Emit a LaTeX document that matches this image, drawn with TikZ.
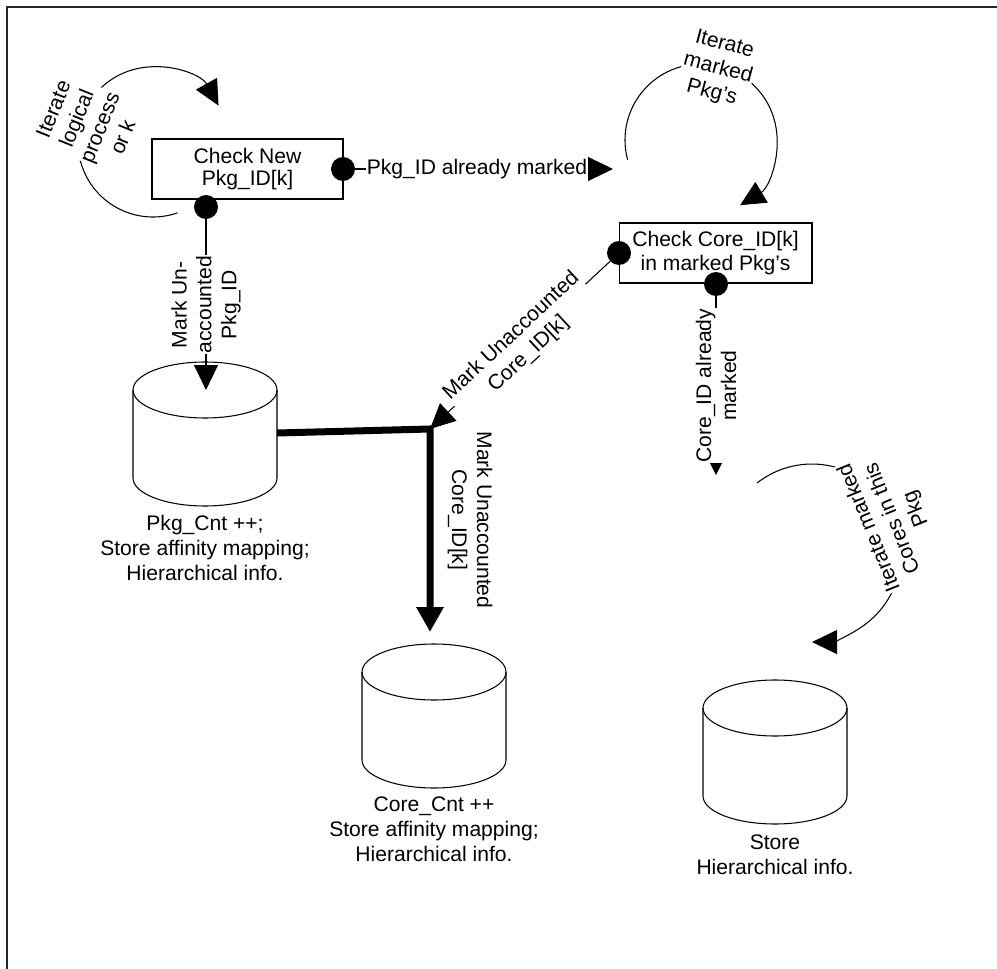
\documentclass[tikz,border=0pt]{standalone}
\usepackage{fontspec}
\setmainfont{Liberation Sans}
\usetikzlibrary{arrows.meta}
\begin{document}
\begin{tikzpicture}[x=0.02cm,y=0.02cm,
  font=\fontsize{12}{14.2}\selectfont,
  procbox/.style={draw, line width=0.6pt, minimum width=3.82cm, minimum height=1.2cm,
    align=center, inner sep=0pt, font=\fontsize{12}{12.2}\selectfont},
  dotn/.style={circle, fill=black, draw=none, minimum size=0.48cm, inner sep=0pt},
  lbl/.style={fill=white, align=center, inner sep=0.5pt},
  arr/.style={line width=0.6pt, -{Triangle[length=0.5cm,width=0.48cm]}},
  sarr/.style={line width=0.6pt, -{Triangle[length=0.32cm,width=0.32cm]}},
  tarr/.style={line width=0.14cm, line join=miter, -{Triangle[length=0.5cm,width=0.52cm]}},
  dbcyl/.pic={
    \draw[line width=0.6pt, fill=white] (-72,0) -- (-72,-88)
      arc[start angle=180, end angle=360, x radius=72, y radius=28] -- (72,0);
    \draw[line width=0.6pt] (0,0) ellipse[x radius=72, y radius=28];
  }]
\useasboundingbox (0,0) rectangle (997,-969);
% frame
\draw[line width=0.04cm, black!85] (7,-969) -- (7,-7) -- (997,-7);

% cylinders
\pic at (205,-390) {dbcyl};
\pic at (434,-672) {dbcyl};
\pic at (775,-708) {dbcyl};
\node[align=center] (pkglbl) at (205,-548) {Pkg\_Cnt ++;\\Store affinity mapping;\\Hierarchical info.};
\node[align=center] (corelbl) at (434,-829) {Core\_Cnt ++\\Store affinity mapping;\\Hierarchical info.};
\node[align=center] (storelbl) at (775,-855) {Store\\Hierarchical info.};

% boxes
\node[procbox] (b1) at (247.5,-169) {Check New\\Pkg\_ID[k]};
\node[procbox, minimum width=3.86cm, font=\fontsize{12}{14}\selectfont] (b2) at (715.5,-253) {Check Core\_ID[k]\\in marked Pkg’s};

% coordinates
\coordinate (t1) at (613,-169);
\coordinate (c1c) at (206,-390);
\coordinate (c1r) at (277,-433);
\coordinate (corner) at (430,-429);
\coordinate (c2t) at (430,-632);
\coordinate (t4) at (716,-475);
\coordinate (l1s) at (177.4,-212.9);
\coordinate (l2s) at (627.6,-159.7);
\coordinate (l3s) at (757.2,-482.9);

% loops
\draw[arr] (l1s) arc[start angle=289, end angle=29, radius=75];
\draw[arr] (l2s) arc[start angle=195, end angle=-59, radius=76];
\draw[arr] (l3s) arc[start angle=128, end angle=-90, radius=89];
\node[lbl, rotate=68] (lp1) at (88,-123) {Iterate\\logical\\process\\or k};
\node[lbl, rotate=-15] (lp2) at (718,-69) {Iterate\\marked\\Pkg’s};
\node[lbl, rotate=112] (lp3) at (893,-518) {Iterate marked\\Cores in this\\Pkg};

% dots
\node[dotn] (d1) at (343,-169) {};
\node[dotn] (d2) at (206,-207) {};
\node[dotn] (d3) at (619,-253) {};
\node[dotn] (d4) at (716,-284) {};

% connectors
\node[lbl] (lab1) at (477,-169) {Pkg\_ID already marked};
\draw[line width=0.6pt] (d1) -- (lab1);
\draw[arr] (lab1.east) -- (t1);
\draw[arr] (d2) -- (c1c) node[midway, lbl, rotate=90] {Mark Un-\\accounted\\Pkg\_ID};
\draw[tarr] (c1r) -- (corner) -- (c2t);
\draw[arr] (d3) -- (corner) node[midway, lbl, sloped] {Mark Unaccounted\\Core\_ID[k]};
\draw[sarr] (d4) -- (t4) node[midway, lbl, rotate=90] {Core\_ID already\\marked};
\node[align=center, rotate=-90] (thklbl) at (470,-520) {Mark Unaccounted\\Core\_ID[k]};
\end{tikzpicture}
\end{document}
